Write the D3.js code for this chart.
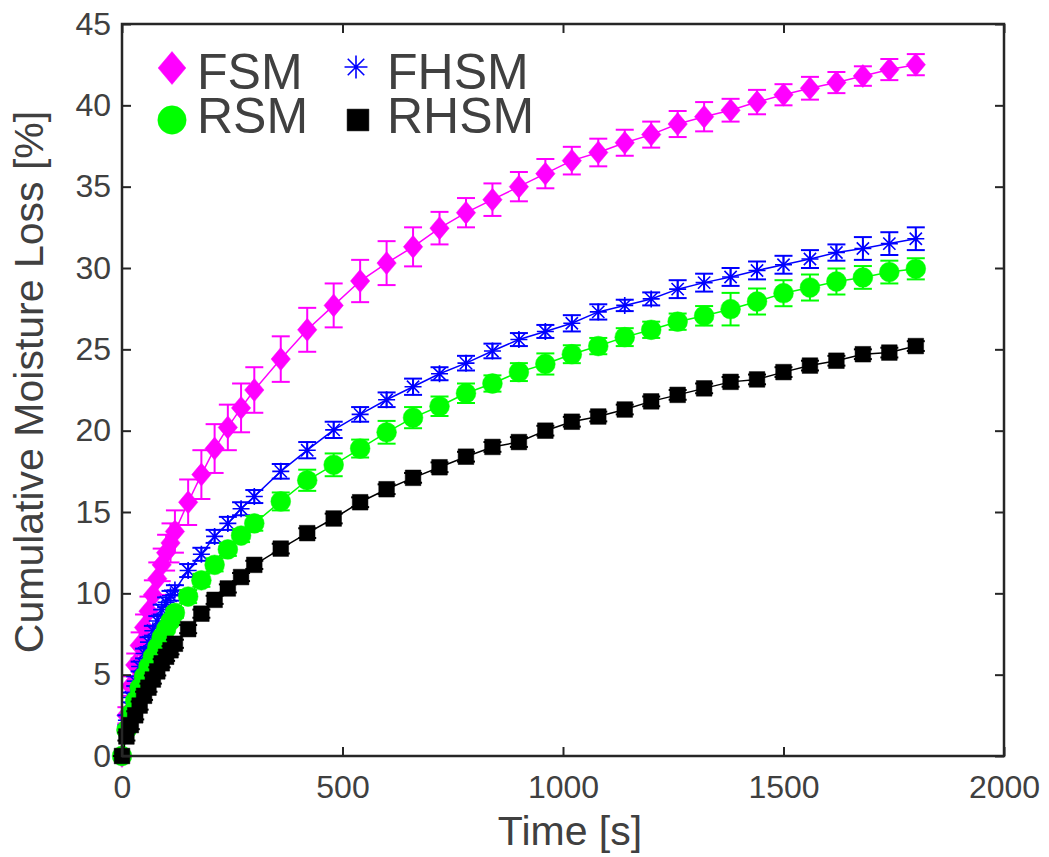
<!DOCTYPE html>
<html>
<head>
<meta charset="utf-8">
<script src="https://cdn.jsdelivr.net/npm/d3@7"></script>
<style>
  body { margin: 0; background: #fff; }
  text { font-family: "Liberation Sans", Arial, sans-serif; }
</style>
</head>
<body>
<div id="chart"></div>
<script>
// Cumulative moisture loss chart

// Set dimensions and margins
const width = 1049;
const height = 857;
const margin = {left: 122, right: 45, top: 24, bottom: 101};

// Data
const times = [0, 10, 20, 30, 40, 50, 60, 70, 80, 90, 100, 110, 120,
  150, 180, 210, 240, 270, 300,
  360, 420, 480, 540, 600, 660, 720, 780, 840, 900, 960, 1020, 1080, 1140, 1200,
  1260, 1320, 1380, 1440, 1500, 1560, 1620, 1680, 1740, 1800];

const fsm = [0, 2.5, 4.3, 5.6, 6.8, 7.9, 8.9, 9.9, 10.9, 11.75, 12.5, 13.1, 13.8,
  15.6, 17.3, 18.9, 20.2, 21.4, 22.5,
  24.4, 26.2, 27.7, 29.2, 30.3, 31.3, 32.45, 33.4, 34.2, 35.0, 35.8, 36.6, 37.1, 37.7, 38.2,
  38.85, 39.3, 39.7, 40.2, 40.65, 41.05, 41.4, 41.8, 42.2, 42.5];
const fsmErr = [0, 0.5, 0.6, 0.7, 0.8, 0.8, 0.9, 0.9, 1.0, 1.0, 1.1, 1.2, 1.3,
  1.4, 1.5, 1.5, 1.4, 1.5, 1.4,
  1.4, 1.35, 1.35, 1.3, 1.35, 1.2, 1.0, 0.9, 1.0, 0.9, 0.9, 0.85, 0.85, 0.8, 0.8,
  0.8, 0.9, 0.7, 0.75, 0.65, 0.7, 0.65, 0.6, 0.65, 0.65];

const fhsm = [0, 2.2, 3.6, 4.6, 5.5, 6.3, 7.0, 7.7, 8.3, 9.0, 9.45, 9.85, 10.2,
  11.4, 12.4, 13.5, 14.3, 15.2, 15.95,
  17.5, 18.8, 20.05, 21.0, 21.9, 22.7, 23.5, 24.15, 24.9, 25.6, 26.1, 26.6, 27.3, 27.7, 28.1,
  28.7, 29.1, 29.45, 29.85, 30.2, 30.55, 30.95, 31.2, 31.5, 31.8];
const fhsmErr = [0, 0.3, 0.3, 0.3, 0.3, 0.3, 0.3, 0.3, 0.3, 0.3, 0.3, 0.3, 0.3,
  0.4, 0.4, 0.4, 0.4, 0.4, 0.4,
  0.45, 0.5, 0.5, 0.45, 0.45, 0.5, 0.4, 0.45, 0.45, 0.4, 0.4, 0.5, 0.47, 0.35, 0.4,
  0.55, 0.55, 0.55, 0.55, 0.55, 0.55, 0.5, 0.7, 0.7, 0.7];

const rsm = [0, 1.6, 2.6, 3.4, 4.2, 4.9, 5.5, 6.1, 6.7, 7.3, 7.8, 8.3, 8.8,
  9.8, 10.8, 11.75, 12.7, 13.55, 14.3,
  15.65, 16.95, 17.9, 18.9, 19.9, 20.8, 21.5, 22.3, 22.9, 23.6, 24.1, 24.7, 25.2, 25.75, 26.2,
  26.7, 27.06, 27.47, 27.94, 28.45, 28.8, 29.17, 29.42, 29.75, 29.95];
const rsmErr = [0, 0.2, 0.2, 0.2, 0.2, 0.2, 0.2, 0.2, 0.2, 0.2, 0.2, 0.2, 0.3,
  0.4, 0.4, 0.4, 0.4, 0.4, 0.45,
  0.55, 0.65, 0.7, 0.55, 0.7, 0.65, 0.6, 0.6, 0.5, 0.55, 0.65, 0.55, 0.5, 0.55, 0.5,
  0.5, 0.6, 1.0, 0.8, 0.8, 0.8, 0.8, 0.7, 0.7, 0.65];

const rhsm = [0, 1.2, 1.9, 2.5, 3.1, 3.7, 4.2, 4.7, 5.2, 5.7, 6.1, 6.5, 6.9,
  7.8, 8.75, 9.6, 10.3, 11.0, 11.75,
  12.75, 13.7, 14.6, 15.6, 16.4, 17.1, 17.75, 18.4, 19.0, 19.3, 20.0, 20.55, 20.87, 21.3, 21.8,
  22.2, 22.6, 23.0, 23.15, 23.6, 24.0, 24.3, 24.7, 24.8, 25.2];
const rhsmErr = [0, 0.25, 0.25, 0.25, 0.25, 0.25, 0.25, 0.25, 0.25, 0.25, 0.25, 0.25, 0.25,
  0.25, 0.25, 0.25, 0.25, 0.25, 0.25,
  0.3, 0.3, 0.3, 0.3, 0.3, 0.3, 0.3, 0.3, 0.3, 0.3, 0.3, 0.3, 0.3, 0.3, 0.3,
  0.3, 0.3, 0.3, 0.3, 0.3, 0.3, 0.3, 0.3, 0.3, 0.3];

const xTicks = [0, 500, 1000, 1500, 2000];
const yTicks = [0, 5, 10, 15, 20, 25, 30, 35, 40, 45];

const series = [
  {name: "FSM", color: "#ff00ff", marker: "diamond", values: fsm, err: fsmErr},
  {name: "FHSM", color: "#0000ff", marker: "star", values: fhsm, err: fhsmErr},
  {name: "RSM", color: "#00ff00", marker: "circle", values: rsm, err: rsmErr},
  {name: "RHSM", color: "#000000", marker: "square", values: rhsm, err: rhsmErr}
];

const textColor = "#404040";
const axisColor = "#262626";

const svg = d3.select("#chart")
  .append("svg")
  .attr("width", width)
  .attr("height", height);

// Scales
const xScale = d3.scaleLinear()
  .domain([0, 2000])
  .range([margin.left, width - margin.right]);

const yScale = d3.scaleLinear()
  .domain([0, 45])
  .range([height - margin.bottom, margin.top]);

// Marker path drawn around (0,0), sizes in px
function markerPath(type, s) {
  const p = d3.path();
  if (type === "diamond") {
    const w = s * 0.42, h = s * 0.5;
    p.moveTo(0, -h); p.lineTo(w, 0); p.lineTo(0, h); p.lineTo(-w, 0); p.closePath();
  } else if (type === "square") {
    const h = s * 0.34;
    p.rect(-h, -h, 2 * h, 2 * h);
  } else if (type === "circle") {
    p.arc(0, 0, s * 0.43, 0, 2 * Math.PI);
  } else if (type === "star") {
    const h = s * 0.37, d = h * 0.72;
    p.moveTo(-h, 0); p.lineTo(h, 0);
    p.moveTo(0, -h); p.lineTo(0, h);
    p.moveTo(-d, -d); p.lineTo(d, d);
    p.moveTo(-d, d); p.lineTo(d, -d);
  }
  return p.toString();
}

function drawMarker(g, type, color, s) {
  g.append("path")
    .attr("d", markerPath(type, s))
    .attr("fill", type === "star" ? "none" : color)
    .attr("stroke", color)
    .attr("stroke-width", type === "star" ? 1.6 : 0.5);
}

// Axes box and ticks
const plot = svg.append("g");

svg.append("g")
  .attr("transform", `translate(0,${height - margin.bottom})`)
  .call(d3.axisBottom(xScale).tickValues(xTicks).tickSizeInner(-9).tickSizeOuter(0)
    .tickPadding(19).tickFormat(d3.format("d")))
  .call(g => g.select(".domain").remove())
  .call(g => g.selectAll("line").attr("stroke", axisColor).attr("stroke-width", 2))
  .call(g => g.selectAll("text").attr("fill", textColor).attr("font-size", "32px")
    .attr("font-family", "Liberation Sans, Arial, sans-serif"));

svg.append("g")
  .attr("transform", `translate(0,${margin.top})`)
  .call(d3.axisTop(xScale).tickValues(xTicks).tickSizeInner(-9).tickSizeOuter(0).tickFormat(""))
  .call(g => g.select(".domain").remove())
  .call(g => g.selectAll("line").attr("stroke", axisColor).attr("stroke-width", 2));

svg.append("g")
  .attr("transform", `translate(${margin.left},0)`)
  .call(d3.axisLeft(yScale).tickValues(yTicks).tickSizeInner(-9).tickSizeOuter(0).tickPadding(11))
  .call(g => g.select(".domain").remove())
  .call(g => g.selectAll("line").attr("stroke", axisColor).attr("stroke-width", 2))
  .call(g => g.selectAll("text").attr("fill", textColor).attr("font-size", "32px")
    .attr("font-family", "Liberation Sans, Arial, sans-serif"));

svg.append("g")
  .attr("transform", `translate(${width - margin.right},0)`)
  .call(d3.axisRight(yScale).tickValues(yTicks).tickSizeInner(-9).tickSizeOuter(0).tickFormat(""))
  .call(g => g.select(".domain").remove())
  .call(g => g.selectAll("line").attr("stroke", axisColor).attr("stroke-width", 2));

svg.append("rect")
  .attr("x", xScale(0))
  .attr("y", yScale(45))
  .attr("width", xScale(2000) - xScale(0))
  .attr("height", yScale(0) - yScale(45))
  .attr("fill", "none")
  .attr("stroke", axisColor)
  .attr("stroke-width", 2.5);

// Axis titles
svg.append("text")
  .attr("x", (xScale(0) + xScale(2000)) / 2 + 7)
  .attr("y", 845)
  .attr("text-anchor", "middle")
  .attr("font-size", "41px")
  .attr("fill", textColor)
  .text("Time [s]");

svg.append("text")
  .attr("transform", "translate(43,382) rotate(-90)")
  .attr("text-anchor", "middle")
  .attr("font-size", "41px")
  .attr("fill", textColor)
  .text("Cumulative Moisture Loss [%]");

// Lines, error bars and markers for each series
const line = d3.line()
  .x((d, i) => xScale(times[i]))
  .y(d => yScale(d));

const capHalf = 9;

series.forEach(s => {
  const g = plot.append("g");

  g.append("path")
    .datum(s.values)
    .attr("d", line)
    .attr("fill", "none")
    .attr("stroke", s.color)
    .attr("stroke-width", 1.5);

  const eb = g.selectAll(".eb")
    .data(s.values)
    .enter()
    .append("g")
    .attr("class", "eb")
    .attr("stroke", s.color)
    .attr("stroke-width", 2);

  eb.append("line")
    .attr("x1", (d, i) => xScale(times[i]))
    .attr("x2", (d, i) => xScale(times[i]))
    .attr("y1", (d, i) => yScale(d - s.err[i]))
    .attr("y2", (d, i) => yScale(d + s.err[i]));
  eb.append("line")
    .attr("x1", (d, i) => xScale(times[i]) - capHalf)
    .attr("x2", (d, i) => xScale(times[i]) + capHalf)
    .attr("y1", (d, i) => yScale(d - s.err[i]))
    .attr("y2", (d, i) => yScale(d - s.err[i]));
  eb.append("line")
    .attr("x1", (d, i) => xScale(times[i]) - capHalf)
    .attr("x2", (d, i) => xScale(times[i]) + capHalf)
    .attr("y1", (d, i) => yScale(d + s.err[i]))
    .attr("y2", (d, i) => yScale(d + s.err[i]));

  g.selectAll(".mk")
    .data(s.values)
    .enter()
    .append("g")
    .attr("class", "mk")
    .attr("transform", (d, i) => `translate(${xScale(times[i])},${yScale(d)})`)
    .each(function() { drawMarker(d3.select(this), s.marker, s.color, 23); });
});

// Legend
const legendItems = [
  {s: series[0], x: 172, y: 68, tx: 197, ty: 89, size: 33},
  {s: series[2], x: 172, y: 120, tx: 197, ty: 133, size: 33},
  {s: series[1], x: 356, y: 67, tx: 387, ty: 89, size: 31},
  {s: series[3], x: 358, y: 120, tx: 387, ty: 133, size: 32}
];

legendItems.forEach(item => {
  const g = svg.append("g").attr("transform", `translate(${item.x},${item.y})`);
  drawMarker(g, item.s.marker, item.s.color, item.size);
  svg.append("text")
    .attr("x", item.tx)
    .attr("y", item.ty)
    .attr("font-size", "50px")
    .attr("fill", textColor)
    .text(item.s.name);
});
</script>
</body>
</html>
